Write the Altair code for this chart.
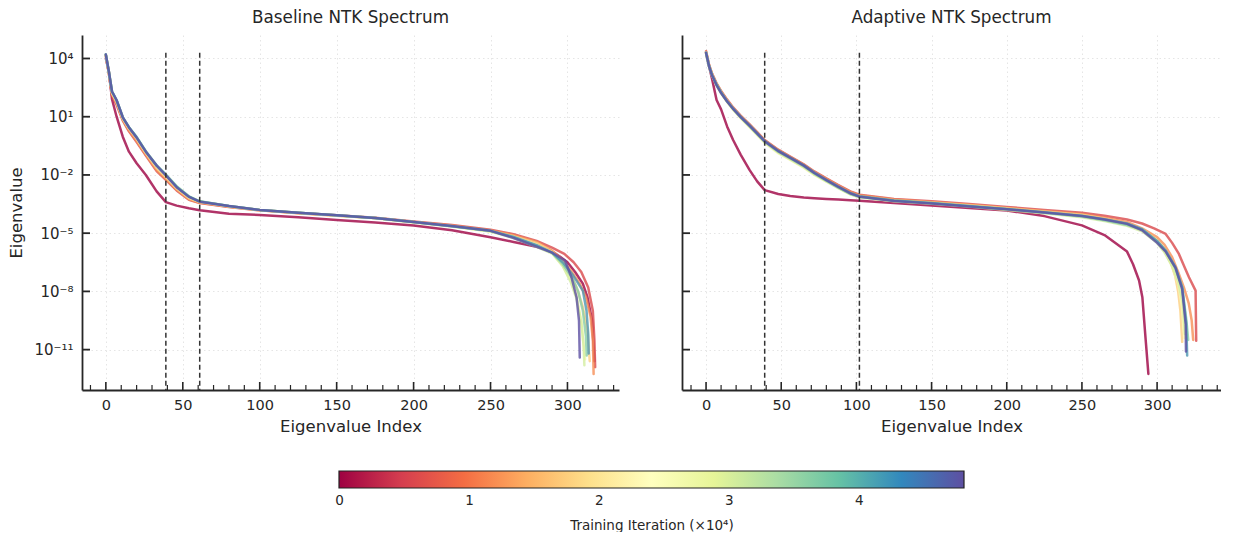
import altair as alt
import pandas as pd

# ---------------- data ----------------
# training iterations (x 10^4) of the plotted spectra
ITERATIONS = [0.0, 0.6, 1.2, 1.8, 2.4, 3.0, 3.6, 4.2, 4.8]
ITER_MAX = 4.81
CBAR_TICKS = [0, 1, 2, 3, 4]

# Baseline panel: log10(eigenvalue) at shared head indices
BASE_IDX = [0, 2, 4, 7, 11, 15, 20, 26, 33, 39, 46, 54, 61, 80, 100, 125, 150, 175, 200, 225, 250, 265, 280]
BASE_0_0 = [4.0, 3.3, 1.9, 1.0, -0.03, -0.8, -1.4, -2.0, -2.85, -3.4, -3.58, -3.72, -3.82, -4.0, -4.06, -4.18, -4.32, -4.45, -4.61, -4.85, -5.21, -5.45, -5.7]
BASE_0_6 = [4.15, 3.2, 2.1, 1.6, 0.8, 0.25, -0.3, -1.0, -1.8, -2.25, -2.8, -3.28, -3.45, -3.65, -3.82, -3.96, -4.08, -4.2, -4.4, -4.58, -4.82, -5.05, -5.4]
BASE_1_2 = [4.15, 3.2, 2.15, 1.7, 0.85, 0.3, -0.25, -0.95, -1.75, -2.2, -2.75, -3.25, -3.43, -3.64, -3.82, -3.97, -4.1, -4.22, -4.42, -4.6, -4.86, -5.1, -5.45]
BASE_1_8 = [4.15, 3.25, 2.2, 1.75, 0.9, 0.38, -0.15, -0.88, -1.65, -2.12, -2.7, -3.2, -3.4, -3.62, -3.81, -3.96, -4.09, -4.22, -4.43, -4.63, -4.9, -5.15, -5.5]
BASE_2_4 = [4.18, 3.28, 2.25, 1.8, 0.93, 0.42, -0.1, -0.83, -1.57, -2.05, -2.65, -3.15, -3.38, -3.61, -3.8, -3.95, -4.09, -4.22, -4.44, -4.65, -4.92, -5.2, -5.6]
BASE_3_0 = [4.18, 3.3, 2.28, 1.83, 0.95, 0.44, -0.07, -0.8, -1.53, -2.0, -2.6, -3.12, -3.37, -3.6, -3.8, -3.95, -4.09, -4.23, -4.45, -4.66, -4.92, -5.25, -5.7]
BASE_3_6 = [4.2, 3.3, 2.3, 1.85, 0.97, 0.46, -0.05, -0.78, -1.5, -1.98, -2.58, -3.1, -3.36, -3.6, -3.8, -3.95, -4.08, -4.22, -4.43, -4.64, -4.88, -5.2, -5.65]
BASE_4_2 = [4.2, 3.3, 2.3, 1.85, 0.97, 0.46, -0.05, -0.8, -1.52, -2.0, -2.62, -3.12, -3.37, -3.6, -3.8, -3.95, -4.08, -4.22, -4.43, -4.64, -4.88, -5.2, -5.62]
BASE_4_8 = [4.2, 3.3, 2.3, 1.85, 0.97, 0.45, -0.08, -0.8, -1.52, -2.02, -2.63, -3.13, -3.38, -3.6, -3.8, -3.95, -4.08, -4.22, -4.43, -4.63, -4.88, -5.25, -5.7]

# Baseline panel: tails (index, log10 eigenvalue)
BASE_TAIL_IDX_0_0 = [288, 295, 300, 305, 310, 313, 316, 317.5]
BASE_TAIL_0_0 = [-5.85, -6.2, -6.5, -7.0, -7.6, -8.3, -9.5, -11.6]
BASE_TAIL_IDX_0_6 = [290, 298, 304, 309, 313.5, 316.5, 317.5, 318]
BASE_TAIL_0_6 = [-5.75, -6.07, -6.5, -7.0, -7.8, -9.0, -10.5, -11.9]
BASE_TAIL_IDX_1_2 = [290, 296, 302, 308, 312, 315, 316.5, 317]
BASE_TAIL_1_2 = [-5.9, -6.3, -6.9, -7.6, -8.3, -9.3, -10.5, -12.25]
BASE_TAIL_IDX_1_8 = [290, 297, 302, 306, 310, 313, 314.5]
BASE_TAIL_1_8 = [-5.95, -6.5, -7.1, -7.8, -8.8, -10.0, -11.6]
BASE_TAIL_IDX_2_4 = [290, 297, 302, 306, 309, 310.5, 311.5]
BASE_TAIL_2_4 = [-6.0, -6.7, -7.4, -8.3, -9.5, -10.8, -11.5]
BASE_TAIL_IDX_3_0 = [290, 297, 302, 306, 309, 310.5, 311]
BASE_TAIL_3_0 = [-6.05, -6.7, -7.5, -8.4, -9.6, -10.8, -11.8]
BASE_TAIL_IDX_3_6 = [290, 297, 303, 307, 310, 312, 312.5]
BASE_TAIL_3_6 = [-6.0, -6.6, -7.3, -8.0, -9.0, -10.3, -11.3]
BASE_TAIL_IDX_4_2 = [290, 297, 303, 310, 312.4, 313.5, 313.8]
BASE_TAIL_4_2 = [-6.0, -6.5, -7.1, -7.96, -9.0, -10.2, -11.2]
BASE_TAIL_IDX_4_8 = [290, 298.4, 302.6, 305.9, 307.5, 308]
BASE_TAIL_4_8 = [-6.0, -6.41, -7.27, -8.3, -9.5, -11.4]

# Adaptive panel: log10(eigenvalue) at shared head indices
ADAP_IDX = [0, 2, 4, 7, 10, 14, 18, 23, 29, 34, 39, 48, 56, 65, 72, 80, 88, 96, 102, 125, 150, 175, 200, 225, 250, 265, 280]
ADAP_0_0 = [4.3, 3.6, 2.95, 1.86, 1.38, 0.5, -0.2, -0.95, -1.75, -2.33, -2.78, -2.98, -3.08, -3.16, -3.2, -3.24, -3.27, -3.3, -3.33, -3.45, -3.58, -3.7, -3.83, -4.12, -4.6, -5.1, -5.95]
ADAP_0_6 = [4.38, 3.68, 3.22, 2.72, 2.32, 1.88, 1.48, 1.06, 0.6, 0.2, -0.2, -0.7, -1.05, -1.45, -1.82, -2.18, -2.52, -2.85, -3.02, -3.24, -3.36, -3.5, -3.65, -3.8, -3.95, -4.1, -4.3]
ADAP_1_2 = [4.35, 3.65, 3.2, 2.7, 2.3, 1.85, 1.45, 1.03, 0.58, 0.18, -0.22, -0.72, -1.08, -1.47, -1.85, -2.2, -2.55, -2.88, -3.05, -3.27, -3.4, -3.54, -3.7, -3.86, -4.02, -4.2, -4.42]
ADAP_1_8 = [4.32, 3.62, 3.15, 2.65, 2.25, 1.8, 1.4, 0.98, 0.5, 0.1, -0.3, -0.82, -1.18, -1.58, -1.95, -2.3, -2.63, -2.95, -3.1, -3.3, -3.42, -3.56, -3.72, -3.88, -4.05, -4.25, -4.5]
ADAP_2_4 = [4.3, 3.6, 3.12, 2.6, 2.2, 1.75, 1.35, 0.92, 0.45, 0.05, -0.35, -0.88, -1.23, -1.63, -2.0, -2.35, -2.68, -3.0, -3.15, -3.34, -3.46, -3.6, -3.76, -3.93, -4.1, -4.3, -4.55]
ADAP_3_0 = [4.3, 3.6, 3.13, 2.63, 2.23, 1.78, 1.38, 0.95, 0.48, 0.08, -0.32, -0.85, -1.2, -1.6, -1.97, -2.33, -2.68, -3.0, -3.15, -3.35, -3.48, -3.63, -3.8, -3.98, -4.18, -4.38, -4.62]
ADAP_3_6 = [4.3, 3.6, 3.15, 2.65, 2.25, 1.8, 1.42, 0.98, 0.52, 0.12, -0.28, -0.8, -1.15, -1.55, -1.93, -2.3, -2.65, -2.98, -3.13, -3.33, -3.46, -3.61, -3.77, -3.95, -4.14, -4.33, -4.58]
ADAP_4_2 = [4.3, 3.6, 3.15, 2.65, 2.25, 1.8, 1.42, 1.0, 0.55, 0.15, -0.25, -0.75, -1.1, -1.5, -1.88, -2.25, -2.6, -2.93, -3.1, -3.32, -3.45, -3.6, -3.75, -3.92, -4.1, -4.28, -4.5]
ADAP_4_8 = [4.3, 3.6, 3.12, 2.62, 2.22, 1.78, 1.4, 0.98, 0.53, 0.13, -0.27, -0.77, -1.12, -1.52, -1.9, -2.27, -2.62, -2.95, -3.12, -3.34, -3.47, -3.62, -3.77, -3.94, -4.12, -4.3, -4.52]

# Adaptive panel: tails (index, log10 eigenvalue)
ADAP_TAIL_IDX_0_0 = [284, 288, 290.2, 292.4, 294.2]
ADAP_TAIL_0_0 = [-6.6, -7.44, -8.3, -10.5, -12.25]
ADAP_TAIL_IDX_0_6 = [290, 298, 305.7, 310, 314.5, 318, 321.2, 325.6, 326]
ADAP_TAIL_0_6 = [-4.5, -4.75, -5.04, -5.5, -6.07, -6.7, -7.27, -7.96, -10.54]
ADAP_TAIL_IDX_1_2 = [290, 300, 305, 310, 314, 317.8, 321, 323, 324]
ADAP_TAIL_1_2 = [-4.75, -5.2, -5.6, -6.24, -7.0, -7.79, -8.6, -9.5, -10.5]
ADAP_TAIL_IDX_1_8 = [290, 300, 305, 309, 312, 314, 315.5, 316.7]
ADAP_TAIL_1_8 = [-4.8, -5.35, -5.8, -6.5, -7.2, -8.0, -9.0, -10.6]
ADAP_TAIL_IDX_2_4 = [290, 300, 305, 310, 314, 316.5, 318]
ADAP_TAIL_2_4 = [-4.85, -5.45, -5.95, -6.7, -7.6, -8.8, -10.4]
ADAP_TAIL_IDX_3_0 = [290, 300, 305, 310, 314, 317, 318.5]
ADAP_TAIL_3_0 = [-4.9, -5.5, -6.0, -6.7, -7.5, -8.6, -10.2]
ADAP_TAIL_IDX_3_6 = [290, 300, 305.7, 312, 316.7, 319.5, 320.7]
ADAP_TAIL_3_6 = [-4.8, -5.45, -5.9, -6.76, -7.79, -9.5, -10.5]
ADAP_TAIL_IDX_4_2 = [290, 300, 305.7, 312.3, 316.7, 319.4, 320]
ADAP_TAIL_4_2 = [-4.8, -5.4, -5.9, -6.76, -7.79, -9.68, -11.3]
ADAP_TAIL_IDX_4_8 = [290, 300, 305.7, 312.3, 316.7, 319, 319.2]
ADAP_TAIL_4_8 = [-4.85, -5.5, -5.95, -6.8, -7.9, -9.7, -11.1]

# dashed cut-off indices
BASE_CUTS = [39, 61]
ADAP_CUTS = [39, 102]

# axis ticks
X_MAJOR = [0, 50, 100, 150, 200, 250, 300]
BASE_X_MINOR = [-10, 10, 20, 30, 40, 60, 70, 80, 90, 110, 120, 130, 140, 160, 170, 180, 190,
                210, 220, 230, 240, 260, 270, 280, 290, 310, 320, 330]
ADAP_X_MINOR = BASE_X_MINOR + [340]
Y_EXPONENTS = [4, 1, -2, -5, -8, -11]

SPECTRAL = ["#9e0142", "#d53e4f", "#f46d43", "#fdae61", "#fee08b", "#ffffbf",
            "#e6f598", "#abdda4", "#66c2a5", "#3288bd", "#5e4fa2"]

# ---------------- build tables ----------------
base_heads = [BASE_0_0, BASE_0_6, BASE_1_2, BASE_1_8, BASE_2_4, BASE_3_0, BASE_3_6, BASE_4_2, BASE_4_8]
base_tidx = [BASE_TAIL_IDX_0_0, BASE_TAIL_IDX_0_6, BASE_TAIL_IDX_1_2, BASE_TAIL_IDX_1_8, BASE_TAIL_IDX_2_4,
             BASE_TAIL_IDX_3_0, BASE_TAIL_IDX_3_6, BASE_TAIL_IDX_4_2, BASE_TAIL_IDX_4_8]
base_tval = [BASE_TAIL_0_0, BASE_TAIL_0_6, BASE_TAIL_1_2, BASE_TAIL_1_8, BASE_TAIL_2_4,
             BASE_TAIL_3_0, BASE_TAIL_3_6, BASE_TAIL_4_2, BASE_TAIL_4_8]
adap_heads = [ADAP_0_0, ADAP_0_6, ADAP_1_2, ADAP_1_8, ADAP_2_4, ADAP_3_0, ADAP_3_6, ADAP_4_2, ADAP_4_8]
adap_tidx = [ADAP_TAIL_IDX_0_0, ADAP_TAIL_IDX_0_6, ADAP_TAIL_IDX_1_2, ADAP_TAIL_IDX_1_8, ADAP_TAIL_IDX_2_4,
             ADAP_TAIL_IDX_3_0, ADAP_TAIL_IDX_3_6, ADAP_TAIL_IDX_4_2, ADAP_TAIL_IDX_4_8]
adap_tval = [ADAP_TAIL_0_0, ADAP_TAIL_0_6, ADAP_TAIL_1_2, ADAP_TAIL_1_8, ADAP_TAIL_2_4,
             ADAP_TAIL_3_0, ADAP_TAIL_3_6, ADAP_TAIL_4_2, ADAP_TAIL_4_8]


def table(head_idx, heads, tidx, tval):
    rows = []
    for k, it in enumerate(ITERATIONS):
        for i, v in zip(head_idx + tidx[k], heads[k] + tval[k]):
            rows.append({"iter": it, "curve": k, "idx": i, "val": 10.0 ** v})
    return pd.DataFrame(rows)


base_df = table(BASE_IDX, base_heads, base_tidx, base_tval)
adap_df = table(ADAP_IDX, adap_heads, adap_tidx, adap_tval)

SUP = {"-": "\u207b", "0": "\u2070", "1": "\u00b9", "2": "\u00b2", "3": "\u00b3", "4": "\u2074",
       "5": "\u2075", "6": "\u2076", "7": "\u2077", "8": "\u2078", "9": "\u2079"}


def sup(n):
    return "".join(SUP[c] for c in str(n))


label_expr = ""
for e in Y_EXPONENTS:
    label_expr += f"datum.value > {10.0 ** e * 0.5} ? '10{sup(e)}' : "
label_expr += "''"

FONT = "DejaVu Sans"
AX = "#262626"
TXT = "#262626"
W_L, W_R, H = 537, 539, 355
Y_DOM = [10 ** -13.08, 10 ** 5.21]
PLOT_LEFT = 83      # page x of the left plot area
PLOT_RIGHT = 1222   # page x of the right plot area's right edge
CB_LEFT, CB_RIGHT = 340, 965


def panel(df, title, xdom, cuts, xminor, left):
    xs = alt.Scale(domain=xdom, nice=False, zero=False)
    ys = alt.Scale(type="log", domain=Y_DOM, nice=False)
    w = W_L if left else W_R
    yaxis = alt.Axis(values=[10.0 ** e for e in Y_EXPONENTS], grid=True, ticks=False,
                     labels=left, labelExpr=label_expr, labelFontSize=15, labelPadding=9,
                     labelColor=TXT, domainColor=AX, domainWidth=1.8,
                     gridColor="#e2e2e2", gridDash=[1.5, 3], gridWidth=0.9,
                     titleFontSize=16.5, titleFontWeight="normal", titleColor=TXT,
                     titlePadding=9)
    xaxis = alt.Axis(values=X_MAJOR, grid=True, ticks=False, labelFontSize=14.5, labelPadding=8,
                     labelColor=TXT, domainColor=AX, domainWidth=1.8,
                     gridColor="#e2e2e2", gridDash=[1.5, 3], gridWidth=0.9,
                     titleFontSize=16.5, titleFontWeight="normal",
                     titleColor=TXT, titlePadding=7)
    xt = "Eigenvalue Index"
    yt = "Eigenvalue" if left else None

    def X(f):
        return alt.X(f, scale=xs, axis=xaxis, title=xt)

    def Y(f):
        return alt.Y(f, scale=ys, axis=yaxis, title=yt)

    lines = alt.Chart(df).mark_line(strokeWidth=2.5, opacity=0.8, strokeJoin="round",
                                    strokeCap="round").encode(
        x=X("idx:Q"),
        y=Y("val:Q"),
        color=alt.Color("iter:Q", scale=alt.Scale(scheme="spectral", domain=[0, ITER_MAX]),
                        legend=None),
        detail="curve:N",
    )
    cut_df = pd.DataFrame({"c": cuts})
    dashes = alt.Chart(cut_df).mark_rule(color="#333333", strokeWidth=1.5,
                                         strokeDash=[5, 3]).encode(
        x=X("c:Q"),
        y=alt.value(H * 0.05), y2=alt.value(H),
    )
    xmaj = alt.Chart(pd.DataFrame({"t": X_MAJOR})).mark_rule(color=AX, strokeWidth=1.6).encode(
        x=X("t:Q"), y=alt.value(H), y2=alt.value(H - 8))
    xmin = alt.Chart(pd.DataFrame({"t": xminor})).mark_rule(color=AX, strokeWidth=1.2).encode(
        x=X("t:Q"), y=alt.value(H), y2=alt.value(H - 5))
    ymaj = alt.Chart(pd.DataFrame({"t": [10.0 ** e for e in Y_EXPONENTS]})).mark_rule(
        color=AX, strokeWidth=1.8).encode(
        y=Y("t:Q"), x=alt.value(0), x2=alt.value(8))
    return alt.layer(lines, dashes, xmaj, xmin, ymaj).properties(
        width=w, height=H,
        title=alt.Title(title, fontSize=16.8, fontWeight="normal", color=TXT, offset=8),
    )


left = panel(base_df, "Baseline NTK Spectrum", [-15.5, 333.5], BASE_CUTS, BASE_X_MINOR, True)
right = panel(adap_df, "Adaptive NTK Spectrum", [-16, 342.5], ADAP_CUTS, ADAP_X_MINOR, False)

top = alt.hconcat(left, right, spacing=62)

# colorbar (its plot origin lines up with the left panel's plot origin)
CB_W = PLOT_RIGHT - PLOT_LEFT
px_per = (CB_RIGHT - CB_LEFT) / ITER_MAX
cb_dom = [-(CB_LEFT - PLOT_LEFT) / px_per, (PLOT_RIGHT - CB_LEFT) / px_per]
grad = alt.Gradient(gradient="linear",
                    stops=[alt.GradientStop(color=c, offset=i / (len(SPECTRAL) - 1))
                           for i, c in enumerate(SPECTRAL)],
                    x1=0, x2=1, y1=0, y2=0)
cb_df = pd.DataFrame({"start": [0.0], "end": [ITER_MAX]})
cbar = alt.Chart(cb_df).mark_rect(fill=grad, stroke="#222222", strokeWidth=1.2).encode(
    x=alt.X("start:Q", scale=alt.Scale(domain=cb_dom, nice=False, zero=False),
            axis=alt.Axis(values=CBAR_TICKS, domain=False, ticks=False, grid=False,
                          labelFontSize=13.5, labelColor=TXT, labelPadding=5,
                          title="Training Iteration (\u00d710\u2074)", titleFontSize=13.5,
                          titleFontWeight="normal", titleColor=TXT,
                          titleX=(CB_LEFT + CB_RIGHT) / 2 - PLOT_LEFT, titlePadding=12)),
    x2="end:Q",
    y=alt.value(0), y2=alt.value(17),
).properties(width=CB_W, height=17)

chart = alt.vconcat(top, cbar, spacing=35).properties(
    padding={"top": 2, "left": 0, "right": 0, "bottom": 0}).configure(
    font=FONT).configure_view(stroke=None)

chart.save("out.html", embed_options={"renderer": "svg", "actions": False})
